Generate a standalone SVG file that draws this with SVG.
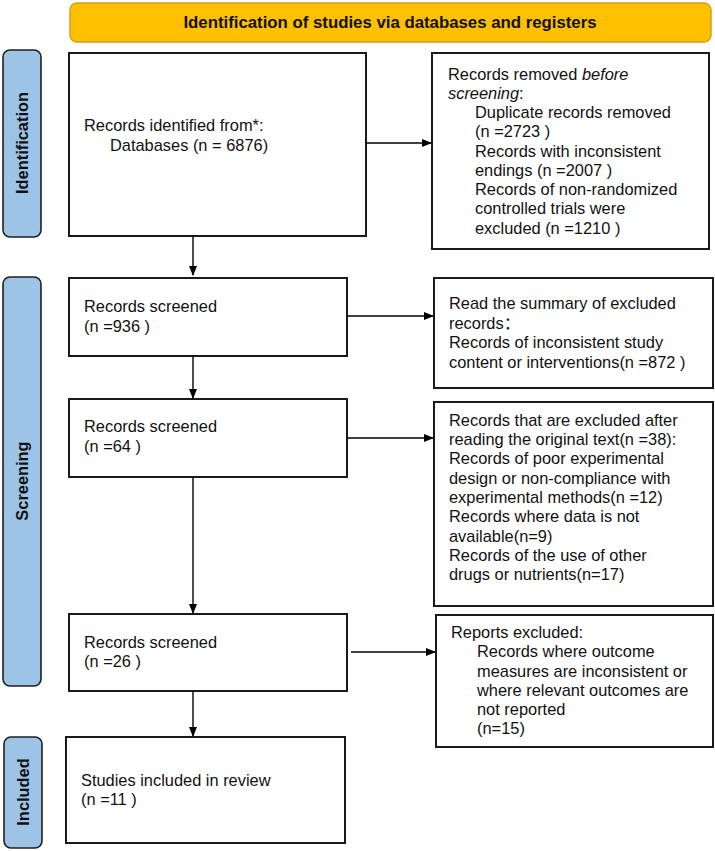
<svg xmlns="http://www.w3.org/2000/svg" width="715" height="851" viewBox="0 0 715 851">
<defs>
<marker id="ah" markerWidth="10" markerHeight="10" refX="9" refY="5" orient="auto" markerUnits="userSpaceOnUse">
<path d="M0,1 L10,5 L0,9 Z" fill="#000"/>
</marker>
<style>
.box{fill:#fff;stroke:#1a1a1a;stroke-width:2}
.side{fill:#9DC3E6;stroke:#1f1f1f;stroke-width:1.6}
.t{font-family:"Liberation Sans",Arial,"Noto Sans CJK SC",sans-serif;font-size:16.4px;fill:#111}
.sl{font-family:"Liberation Sans",Arial,sans-serif;font-size:16.4px;font-weight:bold;fill:#111}
.c{stroke:#000;stroke-width:1.4;fill:none;marker-end:url(#ah)}
</style>
</defs>
<rect x="0" y="0" width="715" height="851" fill="#fff"/>
<g id="header">
<rect x="70" y="3" width="641" height="39" rx="7" fill="#FFC000" stroke="#D4A017" stroke-width="1.5"/>
<text x="390" y="28" text-anchor="middle" class="sl" style="font-size:16.8px">Identification of studies via databases and registers</text>
</g>
<g id="label-identification">
<rect x="3" y="50" width="38" height="187" rx="7" class="side"/>
<text transform="translate(28,143) rotate(-90)" text-anchor="middle" class="sl">Identification</text>
</g>
<g id="label-screening">
<rect x="3" y="277" width="38" height="409" rx="7" class="side"/>
<text transform="translate(28,481) rotate(-90)" text-anchor="middle" class="sl">Screening</text>
</g>
<g id="label-included">
<rect x="4" y="737" width="38" height="111" rx="7" class="side"/>
<text transform="translate(29,792) rotate(-90)" text-anchor="middle" class="sl">Included</text>
</g>
<g id="records-identified">
<rect x="69" y="53" width="297" height="183" class="box"/>
<text class="t"><tspan x="84" y="131">Records identified from*:</tspan><tspan x="110" y="151">Databases (n = 6876)</tspan></text>
</g>
<g id="records-removed">
<rect x="432" y="53" width="277" height="196" class="box"/>
<text class="t"><tspan x="448" y="80">Records removed <tspan font-style="italic">before</tspan></tspan><tspan x="448" y="99"><tspan font-style="italic">screening</tspan>:</tspan><tspan x="475" y="118">Duplicate records removed</tspan><tspan x="475" y="137">(n =2723 )</tspan><tspan x="475" y="157">Records with inconsistent</tspan><tspan x="475" y="176">endings (n =2007 )</tspan><tspan x="475" y="195">Records of non-randomized</tspan><tspan x="475" y="214">controlled trials were</tspan><tspan x="475" y="234">excluded (n =1210 )</tspan></text>
</g>
<g id="screened-936">
<rect x="69" y="278" width="278" height="78" class="box"/>
<text class="t"><tspan x="84" y="312">Records screened</tspan><tspan x="84" y="332">(n =936 )</tspan></text>
</g>
<g id="excluded-summary">
<rect x="434" y="278" width="279" height="110" class="box"/>
<text class="t"><tspan x="449" y="309">Read the summary of excluded</tspan><tspan x="449" y="328.5">records：</tspan><tspan x="449" y="348">Records of inconsistent study</tspan><tspan x="449" y="367.5">content or interventions(n =872 )</tspan></text>
</g>
<g id="screened-64">
<rect x="69" y="399" width="278" height="78" class="box"/>
<text class="t"><tspan x="84" y="432">Records screened</tspan><tspan x="84" y="452">(n =64 )</tspan></text>
</g>
<g id="excluded-fulltext">
<rect x="434" y="402" width="279" height="204" class="box"/>
<text class="t"><tspan x="449" y="426">Records that are excluded after</tspan><tspan x="449" y="445">reading the original text(n =38):</tspan><tspan x="449" y="464">Records of poor experimental</tspan><tspan x="449" y="484">design or non-compliance with</tspan><tspan x="449" y="503">experimental methods(n =12)</tspan><tspan x="449" y="522">Records where data is not</tspan><tspan x="449" y="542">available(n=9)</tspan><tspan x="449" y="561">Records of the use of other</tspan><tspan x="449" y="580">drugs or nutrients(n=17)</tspan></text>
</g>
<g id="screened-26">
<rect x="69" y="614" width="278" height="77" class="box"/>
<text class="t"><tspan x="84" y="648">Records screened</tspan><tspan x="84" y="667">(n =26 )</tspan></text>
</g>
<g id="reports-excluded">
<rect x="436" y="615" width="277" height="132" class="box"/>
<text class="t"><tspan x="451" y="638">Reports excluded:</tspan><tspan x="477" y="657">Records where outcome</tspan><tspan x="477" y="677">measures are inconsistent or</tspan><tspan x="477" y="696">where relevant outcomes are</tspan><tspan x="477" y="715">not reported</tspan><tspan x="477" y="734">(n=15)</tspan></text>
</g>
<g id="included-studies">
<rect x="66" y="737" width="279" height="106" class="box"/>
<text class="t"><tspan x="81" y="786">Studies included in review</tspan><tspan x="81" y="805">(n =11 )</tspan></text>
</g>
<g id="connectors">
<line x1="193" y1="236" x2="193" y2="275" class="c"/>
<line x1="366" y1="143" x2="431" y2="143" class="c"/>
<line x1="347" y1="316" x2="433" y2="316" class="c"/>
<line x1="193" y1="356" x2="193" y2="398" class="c"/>
<line x1="347" y1="438" x2="433" y2="438" class="c"/>
<line x1="193" y1="477" x2="193" y2="613" class="c"/>
<line x1="351" y1="652" x2="435" y2="652" class="c"/>
<line x1="193" y1="691" x2="193" y2="736" class="c"/>
</g>
</svg>
